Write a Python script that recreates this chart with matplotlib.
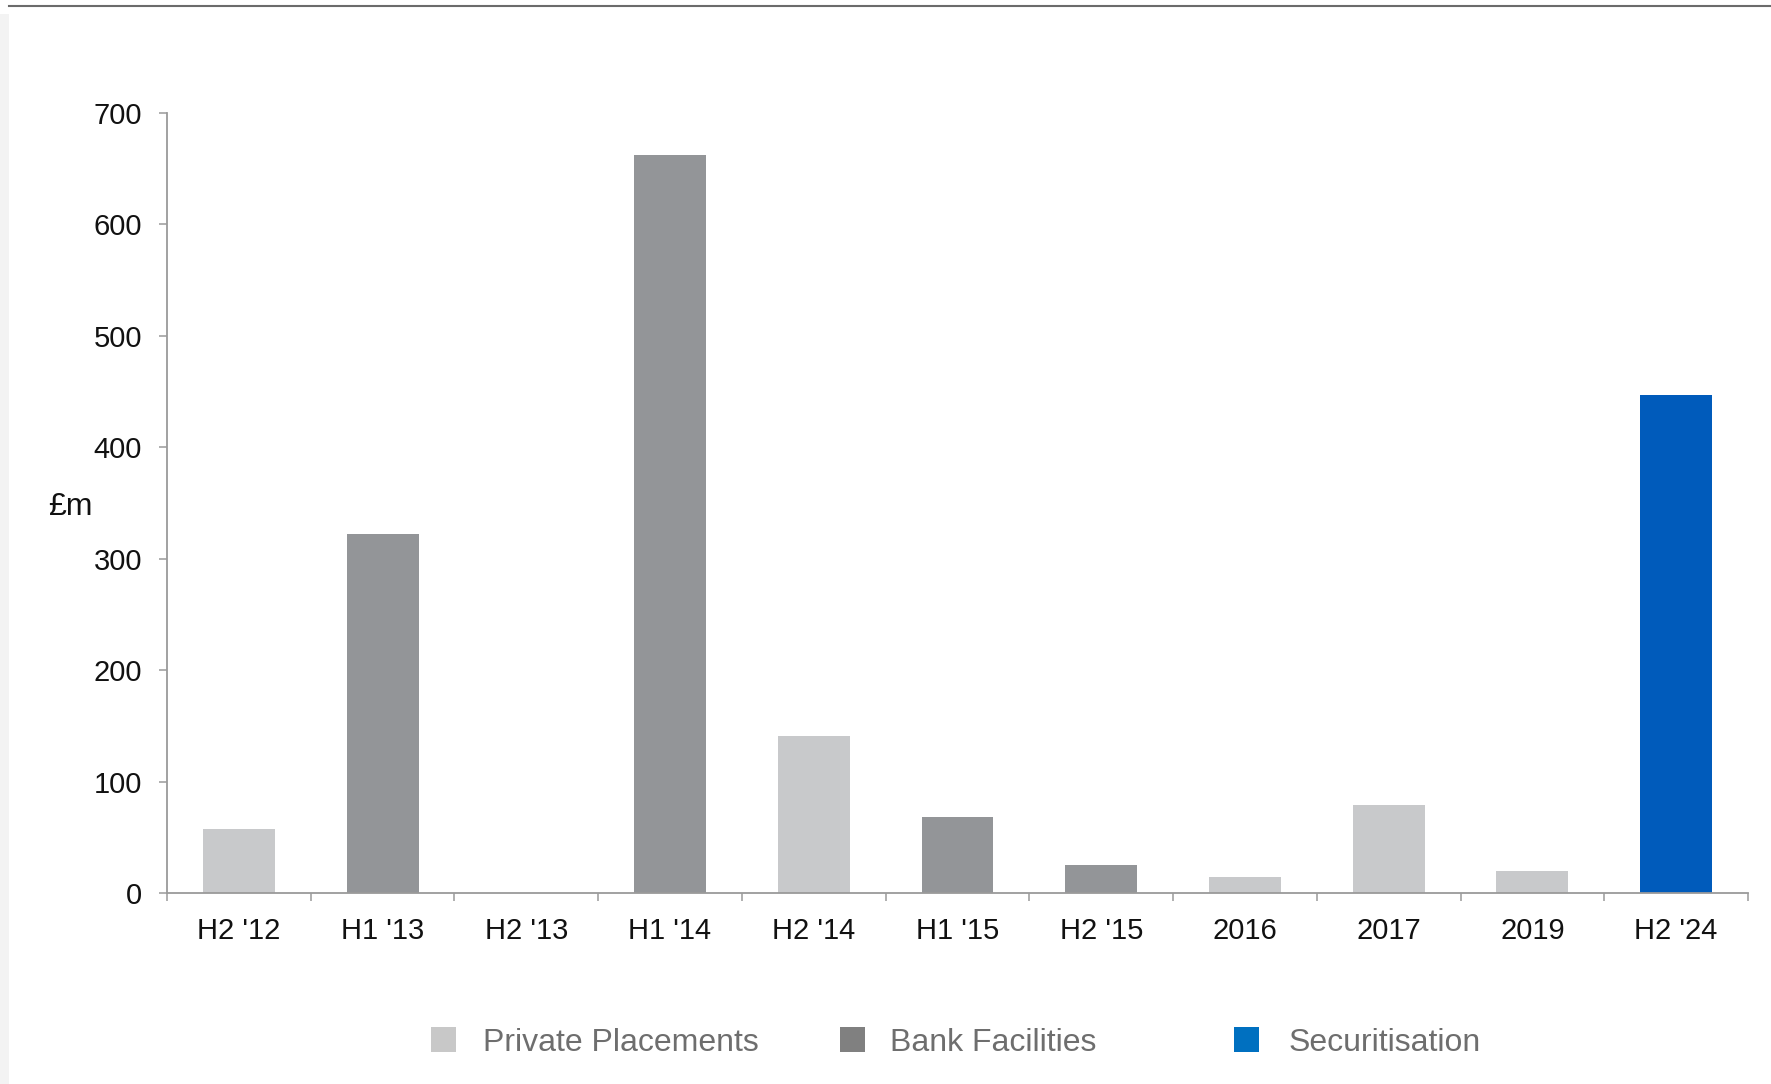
import matplotlib.pyplot as plt
from matplotlib.patches import Rectangle
from matplotlib.lines import Line2D

plt.rcParams['font.family'] = ['Liberation Sans', 'DejaVu Sans']

# Funding raised per period, £m
periods = ["H2 '12", "H1 '13", "H2 '13", "H1 '14", "H2 '14", "H1 '15",
           "H2 '15", "2016", "2017", "2019", "H2 '24"]
amounts = [57, 322, 0, 662, 141, 68, 25, 14, 79, 20, 447]
sources = ['Private Placements', 'Bank Facilities', 'Private Placements',
           'Bank Facilities', 'Private Placements', 'Bank Facilities',
           'Bank Facilities', 'Private Placements', 'Private Placements',
           'Private Placements', 'Securitisation']
legend_order = ['Private Placements', 'Bank Facilities', 'Securitisation']

bar_colors = {'Private Placements': '#C8C9CB',
              'Bank Facilities': '#939598',
              'Securitisation': '#005BBB'}
key_colors = {'Private Placements': '#C8C8C8',
              'Bank Facilities': '#808080',
              'Securitisation': '#0070C0'}

W, H = 1771, 1084
fig = plt.figure(figsize=(W / 100, H / 100), dpi=100)
ax = fig.add_axes([167 / W, 1 - 893 / H, (1748 - 167) / W, (893 - 113) / H])

x = list(range(len(periods)))
ax.bar(x, amounts, width=0.5, color=[bar_colors[s] for s in sources])

ax.set_xlim(-0.5, len(periods) - 0.5)
ax.set_ylim(0, 700)
ax.set_yticks(range(0, 701, 100))
ax.set_xticks(x)
ax.set_xticklabels(periods)
ax.set_xticks([i - 0.5 for i in range(len(periods) + 1)], minor=True)

axis_grey = '#9A9A9A'
for side in ['top', 'right']:
    ax.spines[side].set_visible(False)
for side in ['left', 'bottom']:
    ax.spines[side].set_color(axis_grey)
    ax.spines[side].set_linewidth(1.3)

ax.tick_params(axis='y', length=6, width=1.1, color=axis_grey, pad=12,
               labelsize=21, labelcolor='#111111')
ax.tick_params(axis='x', which='major', length=0, pad=17,
               labelsize=21, labelcolor='#111111')
ax.tick_params(axis='x', which='minor', length=6, width=1.1, color=axis_grey)

ax.set_ylabel('£m', rotation=0, fontsize=23, color='#111111',
              ha='center', va='center')
ax.yaxis.set_label_coords(-0.061, 0.495)

# hand-placed key below the chart
key_x = [(431, 483), (840, 890), (1234, 1289)]
for name, (sx, tx) in zip(legend_order, key_x):
    fig.add_artist(Rectangle((sx / W, 1 - 1052 / H), 25 / W, 25 / H,
                             transform=fig.transFigure,
                             color=key_colors[name], lw=0))
    fig.text(tx / W, 1 - 1043 / H, name, fontsize=23, color='#6E6E6E',
             ha='left', va='center')

# page frame: rule across the top and a pale strip on the left
fig.add_artist(Rectangle((0, 0), 9 / W, 1 - 14 / H,
                         transform=fig.transFigure, color='#F3F3F3', lw=0))
fig.add_artist(Line2D([9 / W, 1], [1 - 6 / H, 1 - 6 / H],
                      transform=fig.transFigure, color='#6B6B6B', lw=1.5))

fig.savefig('out.png', dpi=100)
